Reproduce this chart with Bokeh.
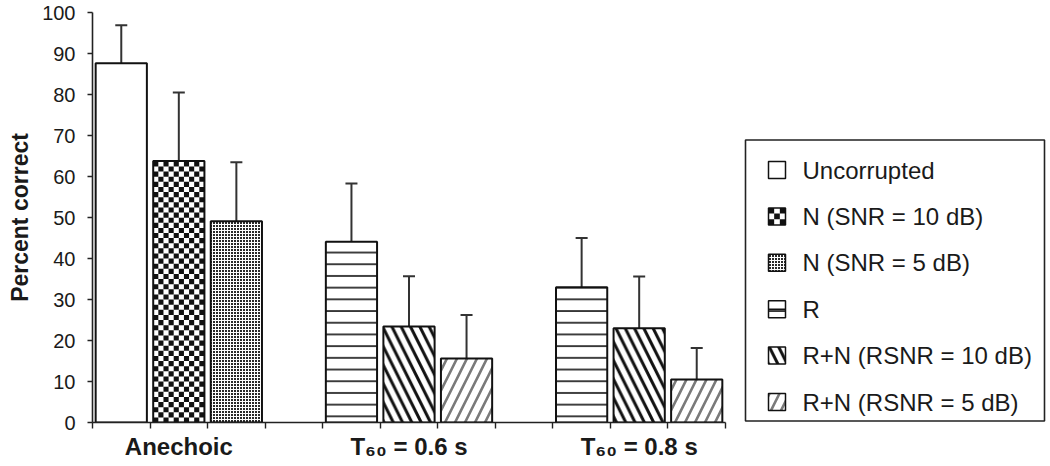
import math

from bokeh.plotting import figure
from bokeh.layouts import row
from bokeh.models import (ColumnDataSource, FixedTicker, Whisker, TeeHead, Range1d)
from bokeh.core.properties import value
from bokeh.embed import file_html
from bokeh.resources import INLINE

# ---------------- data ----------------
groups = ["Anechoic", "T₆₀ = 0.6 s", "T₆₀ = 0.8 s"]
series = ["Uncorrupted", "N (SNR = 10 dB)", "N (SNR = 5 dB)",
          "R", "R+N (RSNR = 10 dB)", "R+N (RSNR = 5 dB)"]
series_groups = [[0], [0], [0], [1, 2], [1, 2], [1, 2]]
series_means = [[87.6], [63.8], [49.1], [44.1, 33.0], [23.4, 23.0], [15.6, 10.5]]
series_sd = [[9.3], [16.7], [14.4], [14.2, 12.0], [12.3, 12.6], [10.6, 7.7]]
y_ticks = [0, 10, 20, 30, 40, 50, 60, 70, 80, 90, 100]

FONT = "Liberation Sans"
INK = "#1a1a1a"
EDGE = "#111111"

FIG_H = 462
LEFT_B, RIGHT_B = 92, 5
FRAME_W, FRAME_H = 633, 410
TOP_B = 12
BOT_B = FIG_H - TOP_B - FRAME_H
N_SLOTS = 11
BAR_W = 0.89

p = figure(width=LEFT_B + FRAME_W + RIGHT_B, height=FIG_H, output_backend="svg",
           toolbar_location=None, x_range=Range1d(0, N_SLOTS), y_range=Range1d(0, 100),
           min_border_left=LEFT_B, min_border_right=RIGHT_B,
           min_border_top=TOP_B, min_border_bottom=BOT_B)
p.outline_line_color = None
p.xgrid.visible = False
p.ygrid.visible = False

STIPPLE = dict(fill_color="#2a2a2a", hatch_pattern="cross", hatch_color="white",
               hatch_scale=3, hatch_weight=1)
HORIZ = dict(hatch_pattern="horizontal_line", hatch_scale=11.7, hatch_weight=1.6, hatch_color=EDGE)
LDIAG = dict(hatch_pattern="left_diagonal_line", hatch_scale=18.6, hatch_weight=3, hatch_color=EDGE)
RDIAG = dict(hatch_pattern="right_diagonal_line", hatch_scale=20, hatch_weight=2.6, hatch_color="#7a7a7a")
styles = [dict(fill_color="white"), dict(fill_color=None), STIPPLE,
          dict(fill_color="white", **HORIZ), dict(fill_color="white", **LDIAG),
          dict(fill_color="white", **RDIAG)]


def checker_cells(xc, y0, height, w, ncols, ch):
    """black cells of a checkerboard filling a box (left, right, bottom, top lists)"""
    cw = w / ncols
    left0 = xc - w / 2
    L, R, B, T = [], [], [], []
    for i in range(int(math.ceil(height / ch - 1e-9))):
        for j in range(ncols):
            if (i + j) % 2 == 0:
                L.append(left0 + j * cw)
                R.append(left0 + (j + 1) * cw)
                B.append(y0 + i * ch)
                T.append(y0 + min((i + 1) * ch, height))
    return dict(left=L, right=R, bottom=B, top=T)


all_x, all_mean, all_upper = [], [], []
for si, name in enumerate(series):
    xs = [g * 4 + (si % 3) + 0.5 for g in series_groups[si]]
    if si == 1:
        cell_px = BAR_W / 10 * FRAME_W / N_SLOTS
        ch = cell_px * 100 / FRAME_H
        for xc, top in zip(xs, series_means[si]):
            p.quad(source=ColumnDataSource(checker_cells(xc, 0, top, BAR_W, 10, ch)),
                   left="left", right="right", bottom="bottom", top="top",
                   fill_color=EDGE, line_color=None)
    src = ColumnDataSource(dict(x=xs, top=series_means[si]))
    p.vbar(x="x", top="top", bottom=0, width=BAR_W, source=src,
           line_color=EDGE, line_width=2, **styles[si])
    all_x += xs
    all_mean += series_means[si]
    all_upper += [m + s for m, s in zip(series_means[si], series_sd[si])]

wsrc = ColumnDataSource(dict(x=all_x, mean=all_mean, upper=all_upper))
p.add_layout(Whisker(source=wsrc, base="x", upper="upper", lower="mean", dimension="height",
                     line_color="#333333", line_width=2,
                     upper_head=TeeHead(size=12, line_color="#333333", line_width=2),
                     lower_head=None))

# y axis
ya = p.yaxis[0]
ya.ticker = FixedTicker(ticks=y_ticks, minor_ticks=[])
ya.axis_label = "Percent correct"
ya.axis_label_text_font = FONT
ya.axis_label_text_font_style = "bold"
ya.axis_label_text_font_size = "23px"
ya.axis_label_text_color = INK
ya.axis_label_standoff = 6
ya.major_label_text_font = FONT
ya.major_label_text_font_size = "20px"
ya.major_label_text_color = INK
ya.major_label_standoff = 12
ya.major_tick_out = 5
ya.major_tick_in = 0
ya.axis_line_color = "#222222"
ya.axis_line_width = 1.6
ya.major_tick_line_color = "#222222"
ya.major_tick_line_width = 1.4

# x axis
xa = p.xaxis[0]
centers = [g * 4 + 1.5 for g in range(len(groups))]
xa.ticker = FixedTicker(ticks=centers, minor_ticks=list(range(N_SLOTS + 1)))
xa.major_label_overrides = {c: g for c, g in zip(centers, groups)}
xa.major_label_text_font = FONT
xa.major_label_text_font_style = "bold"
xa.major_label_text_font_size = "24px"
xa.major_label_text_color = INK
xa.major_label_standoff = 4
xa.major_tick_line_color = None
xa.major_tick_out = 0
xa.major_tick_in = 0
xa.minor_tick_out = 6
xa.minor_tick_in = 0
xa.minor_tick_line_color = "#222222"
xa.minor_tick_line_width = 1.4
xa.axis_line_color = "#222222"
xa.axis_line_width = 1.6

# ---------------- legend panel (1 data unit = 1 px) ----------------
LG_W = 316
lg = figure(width=LG_W, height=FIG_H, output_backend="svg", toolbar_location=None,
            x_range=Range1d(0, LG_W), y_range=Range1d(-1.5, FRAME_H - 1.5),
            x_axis_type=None, y_axis_type=None,
            min_border_left=0, min_border_right=0, min_border_top=TOP_B, min_border_bottom=BOT_B)
lg.grid.visible = False
lg.outline_line_color = None

BOX_L, BOX_R, BOX_H = 15, 314, 281
lg.quad(left=[BOX_L], right=[BOX_R], bottom=[0], top=[BOX_H],
        fill_color="white", line_color="#222222", line_width=1.6)

SW = 17
sw_x = BOX_L + 23 + SW / 2
leg_y = [BOX_H - (30 + i * 46.4) for i in range(len(series))]
for si, name in enumerate(series):
    y = leg_y[si]
    if si == 1:
        lg.quad(source=ColumnDataSource(checker_cells(sw_x, y - SW / 2, SW, SW, 3, SW / 3)),
                left="left", right="right", bottom="bottom", top="top",
                fill_color=EDGE, line_color=None)
    lg.rect(x=[sw_x], y=[y], width=SW, height=SW, line_color=EDGE, line_width=1.5, **styles[si])
    if si == 3:
        lg.segment(x0=[sw_x - SW / 2], x1=[sw_x + SW / 2], y0=[y], y1=[y],
                   line_color=EDGE, line_width=1.5)

lg.text(x=[BOX_L + 57] * len(series), y=leg_y, text=series, text_baseline="middle",
        text_align="left", text_font=value(FONT), text_font_size="24px", text_color=INK)

open("out.html", "w").write(file_html(row(p, lg), INLINE))
